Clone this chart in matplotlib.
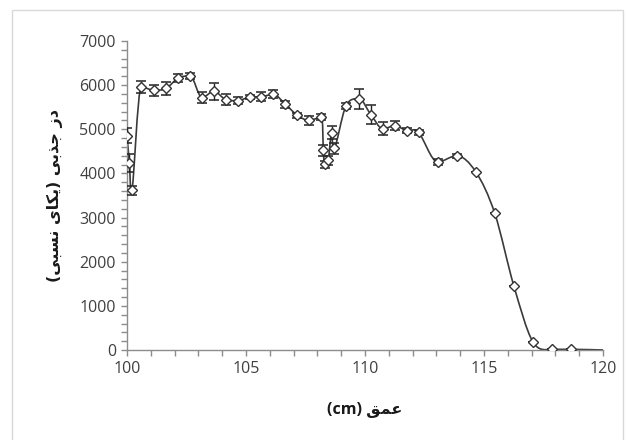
import matplotlib
matplotlib.use("Agg")
import matplotlib.pyplot as plt
from matplotlib.path import Path
from matplotlib.patches import PathPatch, Rectangle
from matplotlib.ticker import MultipleLocator
import numpy as np

# ---- data ----
depth = [100.0, 100.1, 100.2, 100.6, 101.15, 101.65, 102.15, 102.65, 103.15, 103.65,
         104.15, 104.65, 105.15, 105.65, 106.15, 106.65, 107.15, 107.65, 108.15, 108.25,
         108.3, 108.45, 108.6, 108.7, 109.2, 109.75, 110.25, 110.75, 111.25, 111.75,
         112.25, 113.05, 113.85, 114.65, 115.45, 116.25, 117.05, 117.85, 118.65]
dose = [4850, 4240, 3620, 5960, 5880, 5930, 6160, 6210, 5720, 5860,
        5670, 5650, 5730, 5740, 5790, 5570, 5320, 5200, 5280, 4520,
        4210, 4300, 4920, 4570, 5530, 5690, 5330, 5010, 5080, 4970,
        4930, 4260, 4400, 4040, 3100, 1460, 190, 15, 15]
err = [170, 200, 100, 130, 130, 150, 100, 70, 120, 190,
       120, 80, 40, 100, 90, 80, 60, 100, 60, 130,
       80, 100, 150, 130, 60, 220, 210, 150, 100, 60,
       50, 60, 40, 0, 0, 0, 0, 0, 0]
line_end_depth = [120.0]
line_end_dose = [0]

x_ticks = [100, 105, 110, 115, 120]
y_ticks = [0, 1000, 2000, 3000, 4000, 5000, 6000, 7000]

# Persian labels (shaped presentation forms in visual order)
ylabel_text = "(\uFBFD\uFE92\uFEB4\uFEE7 \uFBFC\uFE8E\uFB91\uFBFE) \uFBFD\uFE91\uFEAC\uFE9F \uFEAF\uFEA9"
xlabel_text = "(cm) \uFED6\uFEE4\uFECB"

# ---- figure ----
W, H = 626, 440
fig = plt.figure(figsize=(W / 100, H / 100), dpi=100)
fig.patch.set_facecolor("white")
fig.patches.append(Rectangle((12 / W, -0.02), (623 - 12) / W, (H - 10) / H + 0.02,
                             transform=fig.transFigure, fill=False,
                             edgecolor="#d9d9d9", linewidth=1.0))

ax = fig.add_axes([127 / W, (H - 350) / H, 476 / W, 309 / H])
ax.set_xlim(100, 120)
ax.set_ylim(0, 7000)

# smooth line (Catmull-Rom style Bezier, flattened at local extrema)
xs = np.array(depth + line_end_depth, dtype=float)
ys = np.array(dose + line_end_dose, dtype=float)
P = np.column_stack([xs, ys])
n = len(P)
T = np.zeros_like(P)
for i in range(n):
    a = P[i - 1] if i > 0 else P[i]
    b = P[i + 1] if i + 1 < n else P[i]
    t = (b - a) / 6.0
    if 0 < i < n - 1:
        if (P[i, 1] - P[i - 1, 1]) * (P[i + 1, 1] - P[i, 1]) <= 0:
            t[1] = 0.0
    T[i] = t
verts = [P[0]]
codes = [Path.MOVETO]
for i in range(n - 1):
    verts += [P[i] + T[i], P[i + 1] - T[i + 1], P[i + 1]]
    codes += [Path.CURVE4] * 3
ax.add_patch(PathPatch(Path(verts, codes), fill=False, edgecolor="#3a3a3a",
                       linewidth=1.2, zorder=2))

ax.errorbar(depth, dose, yerr=err, fmt="none", ecolor="#222222",
            elinewidth=1.0, capsize=3.3, capthick=1.1, zorder=3)
ax.plot(depth, dose, linestyle="none", marker="D", markersize=4.6,
        markerfacecolor="white", markeredgecolor="#333333",
        markeredgewidth=1.0, zorder=4)

# axes styling
for s in ["top", "right"]:
    ax.spines[s].set_visible(False)
for s in ["left", "bottom"]:
    ax.spines[s].set_color("#8c8c8c")
    ax.spines[s].set_linewidth(1.0)

ax.set_xticks(x_ticks)
ax.set_yticks(y_ticks)
ax.xaxis.set_minor_locator(MultipleLocator(1))
ax.yaxis.set_minor_locator(MultipleLocator(200))
ax.tick_params(axis="both", which="both", direction="out", length=4,
               width=1.0, color="#8c8c8c")
ax.tick_params(axis="both", which="major", labelsize=11.5,
               labelcolor="#404040", pad=4)
for lab in ax.get_xticklabels() + ax.get_yticklabels():
    lab.set_fontfamily(["Open Sans", "DejaVu Sans"])

ax.set_ylabel(ylabel_text, fontsize=11.5, fontweight="bold",
              family=["DejaVu Sans"], color="#1a1a1a", va="center")
ax.yaxis.set_label_coords(-(127 - 55) / 476, 0.5)
ax.set_xlabel(xlabel_text, fontsize=11.5, fontweight="bold",
              family=["Open Sans", "DejaVu Sans"], color="#1a1a1a", va="center")
ax.xaxis.set_label_coords(0.5, -(410 - 350) / 309)

fig.savefig("out.png", dpi=100, facecolor="white")
